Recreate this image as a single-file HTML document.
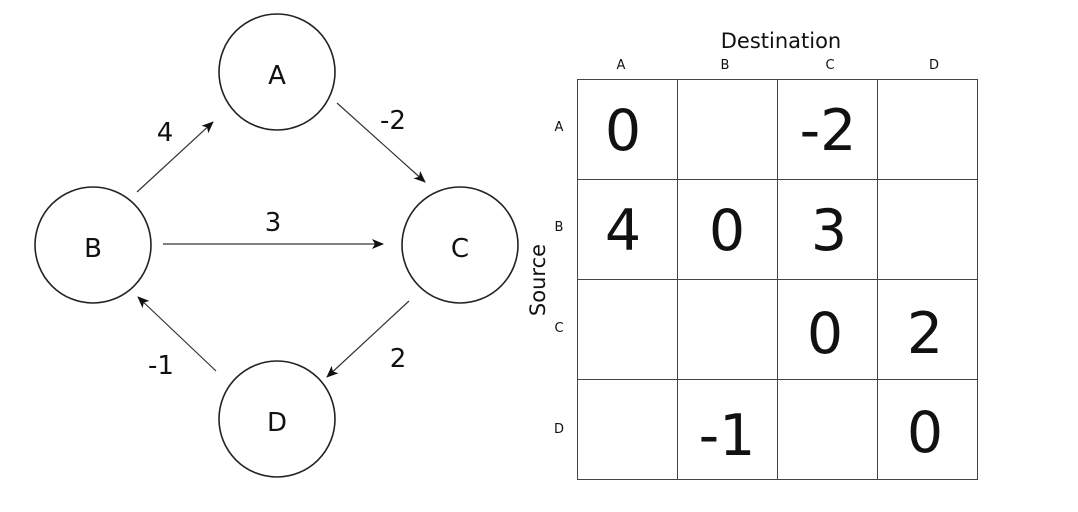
<!DOCTYPE html>
<html><head><style>
body{margin:0;background:#fff;}
svg{display:block;}
</style></head><body>
<svg width="1078" height="512" xmlns="http://www.w3.org/2000/svg" font-family="DejaVu Sans, Liberation Sans, sans-serif">
<defs>
<marker id="ar" viewBox="0 0 12 10" refX="11" refY="5" markerWidth="12" markerHeight="10" markerUnits="userSpaceOnUse" orient="auto">
<path d="M0,0 L12,5 L0,10 L3,5 Z" fill="#111"/>
</marker>
</defs>
<g fill="none" stroke="#222" stroke-width="1.6">
<circle cx="277" cy="72" r="58"/>
<circle cx="93" cy="245" r="58"/>
<circle cx="460" cy="245" r="58"/>
<circle cx="277" cy="419" r="58"/>
</g>
<g stroke="#333" stroke-width="1.2" marker-end="url(#ar)">
<line x1="137" y1="192" x2="213" y2="122"/>
<line x1="337" y1="103" x2="425" y2="182"/>
<line x1="163" y1="244" x2="383" y2="244"/>
<line x1="409" y1="301" x2="327" y2="377"/>
<line x1="216" y1="371" x2="138" y2="297"/>
</g>
<g font-size="26" fill="#111" text-anchor="middle">
<text x="277" y="84">A</text>
<text x="93" y="257">B</text>
<text x="460" y="257">C</text>
<text x="277" y="431">D</text>
<text x="165" y="141">4</text>
<text x="393" y="129">-2</text>
<text x="273" y="231">3</text>
<text x="398" y="367">2</text>
<text x="161" y="374">-1</text>
</g>
<g stroke="#444" stroke-width="1" fill="none">
<rect x="577.5" y="79.5" width="400" height="400"/>
<line x1="677.5" y1="79.5" x2="677.5" y2="479.5"/>
<line x1="777.5" y1="79.5" x2="777.5" y2="479.5"/>
<line x1="877.5" y1="79.5" x2="877.5" y2="479.5"/>
<line x1="577.5" y1="179.5" x2="977.5" y2="179.5"/>
<line x1="577.5" y1="279.5" x2="977.5" y2="279.5"/>
<line x1="577.5" y1="379.5" x2="977.5" y2="379.5"/>
</g>
<g fill="#111" text-anchor="middle">
<text x="781" y="48" font-size="21">Destination</text>
<text transform="translate(545,280) rotate(-90)" font-size="21">Source</text>
<g font-size="13">
<text x="621" y="69">A</text><text x="725" y="69">B</text><text x="830" y="69">C</text><text x="934" y="69">D</text>
<text x="559" y="131">A</text><text x="559" y="231">B</text><text x="559" y="332">C</text><text x="559" y="433">D</text>
</g>
<g font-size="57">
<text x="623" y="150">0</text>
<text x="828" y="150">-2</text>
<text x="623" y="250">4</text>
<text x="727" y="250">0</text>
<text x="829" y="250">3</text>
<text x="825" y="353">0</text>
<text x="925" y="353">2</text>
<text x="727" y="455">-1</text>
<text x="925" y="452">0</text>
</g>
</g>
</svg>
</body></html>
